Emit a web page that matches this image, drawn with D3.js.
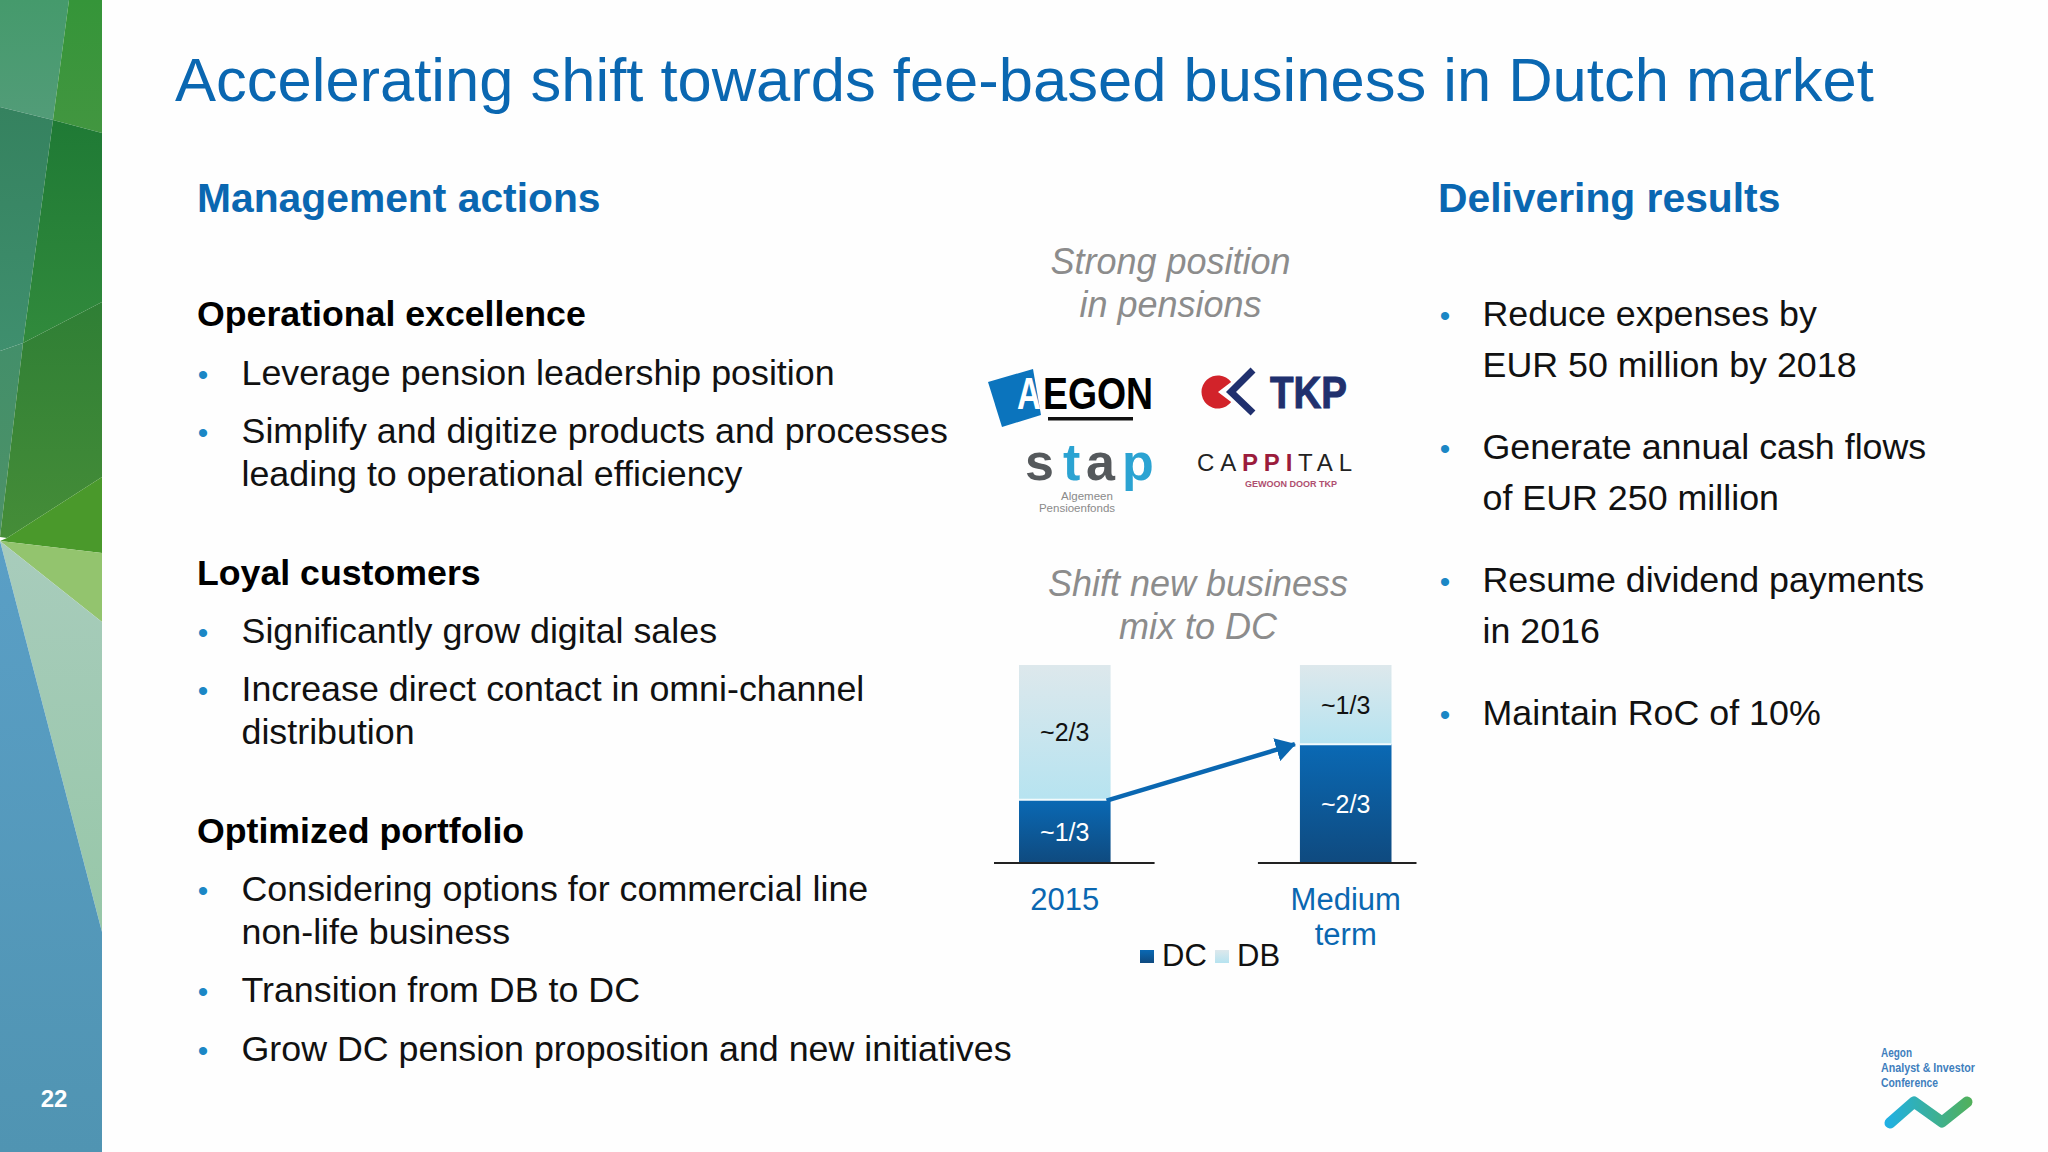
<!DOCTYPE html>
<html>
<head>
<meta charset="utf-8">
<script src="https://cdn.jsdelivr.net/npm/d3@7"></script>
<style>
  html, body { margin: 0; padding: 0; background: #fff; overflow: hidden; }
  svg { display: block; }
  text { font-family: "Liberation Sans", Arial, sans-serif; }
</style>
</head>
<body>
<svg id="slide" width="2048" height="1152"></svg>
<script>
// chart values
const categories = ['2015', 'Medium term'];
const seriesNames = ['DC', 'DB'];
const dcValues = [32, 60];
const dbValues = [68, 40];
const dcLabels = ['~1/3', '~2/3'];
const dbLabels = ['~2/3', '~1/3'];

const BLUE = '#0a67b1';

const svg = d3.select('#slide');
const defs = svg.append('defs');

function vGradient(id, c1, c2) {
  const g = defs.append('linearGradient').attr('id', id)
    .attr('x1', 0).attr('y1', 0).attr('x2', 0).attr('y2', 1);
  g.append('stop').attr('offset', '0%').attr('stop-color', c1);
  g.append('stop').attr('offset', '100%').attr('stop-color', c2);
}
vGradient('dcFill', '#0a69b4', '#0f4a7f');
vGradient('dbFill', '#dde8ec', '#b6e3f0');
vGradient('p1', '#459a6c', '#529c78');
vGradient('p2', '#359539', '#429640');
vGradient('p3', '#35825f', '#3f8f6e');
vGradient('p4', '#1f7a35', '#318a3c');
vGradient('p5', '#438f6a', '#4d9268');
vGradient('p6', '#2f7f35', '#458d38');
vGradient('p9', '#a8ccbc', '#97c7a8');
vGradient('blueFill', '#5a9fc6', '#5094b2');
const logoGrad = defs.append('linearGradient').attr('id', 'logoFill')
  .attr('gradientUnits', 'userSpaceOnUse')
  .attr('x1', 1885).attr('y1', 0).attr('x2', 1972).attr('y2', 0);
logoGrad.append('stop').attr('offset', '0%').attr('stop-color', '#1fb0e6');
logoGrad.append('stop').attr('offset', '100%').attr('stop-color', '#52b05a');

svg.append('rect').attr('width', 2048).attr('height', 1152).attr('fill', '#fefefe');

// side panel
const panel = svg.append('g');
[
  ['url(#p1)', [[0,0],[69,0],[53,120],[0,107]]],
  ['url(#p2)', [[69,0],[102,0],[102,133],[53,120]]],
  ['url(#p3)', [[0,107],[53,120],[23,343],[0,351]]],
  ['url(#p4)', [[53,120],[102,133],[102,302],[23,343]]],
  ['url(#p5)', [[0,351],[23,343],[0,537]]],
  ['url(#p6)', [[23,343],[102,302],[102,477],[7,538],[0,537]]],
  ['#4a992b', [[7,538],[102,477],[102,553],[0,541]]],
  ['#93c46e', [[0,541],[102,553],[102,622]]],
  ['url(#p9)', [[0,541],[102,622],[102,932]]],
  ['url(#blueFill)', [[0,541],[102,932],[102,1152],[0,1152]]]
].forEach(([fill, pts]) => {
  panel.append('polygon')
    .attr('points', pts.map(p => p.join(',')).join(' '))
    .attr('fill', fill);
});
panel.append('text').attr('x', 54).attr('y', 1107).attr('text-anchor', 'middle')
  .attr('font-size', 24).attr('font-weight', 'bold').attr('fill', '#fff').text('22');

function txt(x, y, s, size, fill, opts) {
  const t = svg.append('text').attr('x', x).attr('y', y)
    .attr('font-size', size).attr('fill', fill).text(s);
  Object.entries(opts || {}).forEach(([k, v]) => t.attr(k, v));
  return t;
}

txt(175, 101, 'Accelerating shift towards fee-based business in Dutch market', 61.5, BLUE);
txt(197, 212, 'Management actions', 40.8, BLUE, { 'font-weight': 'bold' });
txt(1438, 212, 'Delivering results', 40.8, BLUE, { 'font-weight': 'bold' });

// left column
[
  [326, 'Operational excellence'],
  [585, 'Loyal customers'],
  [843, 'Optimized portfolio']
].forEach(d => txt(197, d[0], d[1], 35.7, '#000', { 'font-weight': 'bold' }));

function bulletLines(bx, tx, rows) {
  rows.forEach(([y, s, first]) => {
    if (first) txt(bx, y, '•', 30, '#1b87c5', { 'text-anchor': 'middle' });
    txt(tx, y, s, 35.8, '#111');
  });
}
bulletLines(203, 241.5, [
  [385, 'Leverage pension leadership position', true],
  [443, 'Simplify and digitize products and processes', true],
  [486, 'leading to operational efficiency', false],
  [643, 'Significantly grow digital sales', true],
  [701, 'Increase direct contact in omni-channel', true],
  [744, 'distribution', false],
  [901, 'Considering options for commercial line', true],
  [944, 'non-life business', false],
  [1002, 'Transition from DB to DC', true],
  [1061, 'Grow DC pension proposition and new initiatives', true]
]);
bulletLines(1445, 1482.5, [
  [326, 'Reduce expenses by', true],
  [377, 'EUR 50 million by 2018', false],
  [459, 'Generate annual cash flows', true],
  [510, 'of EUR 250 million', false],
  [592, 'Resume dividend payments', true],
  [643, 'in 2016', false],
  [725, 'Maintain RoC of 10%', true]
]);

// italic captions
[
  [1170.5, 274, 'Strong position'],
  [1170.5, 317, 'in pensions'],
  [1198, 596, 'Shift new business'],
  [1198, 639, 'mix to DC']
].forEach(d => txt(d[0], d[1], d[2], 36, '#8c8c8c', { 'font-style': 'italic', 'text-anchor': 'middle' }));

// logos
const logos = svg.append('g');
logos.append('polygon').attr('points', '988,382 1033,369 1041,415 1002,427').attr('fill', '#0b74bd');
txt(0, 0, 'A', 44, '#fff', { 'font-weight': 'bold', transform: 'translate(1017,409) scale(0.75,1)' });
txt(0, 0, 'EGON', 44, '#000', { 'font-weight': 'bold', transform: 'translate(1043,409) scale(0.85,1)' });
logos.append('rect').attr('x', 1048).attr('y', 417).attr('width', 85).attr('height', 3.5).attr('fill', '#111');

const pac = d3.arc().innerRadius(0).outerRadius(16.5)
  .startAngle(Math.PI / 2 + 0.65).endAngle(Math.PI * 2.5 - 0.65);
logos.append('path').attr('d', pac()).attr('transform', 'translate(1218,392)').attr('fill', '#d2232a');
logos.append('path').attr('d', 'M1253,370 L1231,392 L1253,413').attr('fill', 'none')
  .attr('stroke', '#20306e').attr('stroke-width', 7);
txt(1270, 408, 'TKP', 44, '#20306e', { 'font-weight': 'bold', textLength: 77, lengthAdjust: 'spacingAndGlyphs', stroke: '#20306e', 'stroke-width': 1 });

[
  ['s', 1025, '#55595c'], ['t', 1063, '#2ba3d2'], ['a', 1086, '#55595c'], ['p', 1122, '#2ba3d2']
].forEach(d => txt(d[1], 480, d[0], 52, d[2], { 'font-weight': 'bold' }));
txt(1087, 500, 'Algemeen', 11.5, '#8a8a8a', { 'text-anchor': 'middle' });
txt(1077, 512, 'Pensioenfonds', 11.5, '#8a8a8a', { 'text-anchor': 'middle' });

const cap = txt(1197, 471, '', 24, '#222', { textLength: 155 });
[['CA', '#222', 'normal'], ['PPI', '#9b1c3c', 'bold'], ['TAL', '#222', 'normal']].forEach(d => {
  cap.append('tspan').attr('fill', d[1]).attr('font-weight', d[2]).text(d[0]);
});
txt(1245, 487, 'GEWOON DOOR TKP', 9, '#ae4f6f', { 'font-weight': 'bold', textLength: 92 });

const confFont = '"Liberation Sans Narrow", "Liberation Sans", sans-serif';
[[1057, 'Aegon', 31], [1072, 'Analyst & Investor', 94], [1087, 'Conference', 57]].forEach(d => {
  txt(1881, d[0], d[1], 13, '#3f7ebd', { textLength: d[2], lengthAdjust: 'spacingAndGlyphs', 'font-weight': 'bold' })
    .style('font-family', confFont);
});
logos.append('path').attr('d', 'M1890,1123 L1914,1102 L1942,1122 L1967,1102')
  .attr('fill', 'none').attr('stroke', 'url(#logoFill)').attr('stroke-width', 11)
  .attr('stroke-linecap', 'round').attr('stroke-linejoin', 'round');

// stacked bars
const x = d3.scaleBand().domain(categories).range([1019, 1391.5]).paddingInner(0.674).paddingOuter(0);
const y = d3.scaleLinear().domain([0, 100]).range([863, 665]);

const rows = categories.map((c, i) => ({ category: c, DC: dcValues[i], DB: dbValues[i], dcLabel: dcLabels[i], dbLabel: dbLabels[i] }));
const stacked = d3.stack().keys(seriesNames)(rows);
const fills = { DC: 'url(#dcFill)', DB: 'url(#dbFill)' };

const chart = svg.append('g');
chart.selectAll('g.series').data(stacked).enter().append('g').attr('class', 'series')
  .attr('fill', d => fills[d.key])
  .selectAll('rect').data(d => d).enter().append('rect')
  .attr('x', d => x(d.data.category))
  .attr('y', d => y(d[1]))
  .attr('width', x.bandwidth())
  .attr('height', d => y(d[0]) - y(d[1]));

// white seam between the two segments
chart.selectAll('line.seam').data(rows).enter().append('line').attr('class', 'seam')
  .attr('x1', d => x(d.category)).attr('x2', d => x(d.category) + x.bandwidth())
  .attr('y1', d => y(d.DC)).attr('y2', d => y(d.DC))
  .attr('stroke', '#f2fafc').attr('stroke-width', 2);

chart.selectAll('text.dc').data(rows).enter().append('text').attr('class', 'dc')
  .attr('x', d => x(d.category) + x.bandwidth() / 2)
  .attr('y', d => y(d.DC / 2) + 9.5)
  .attr('text-anchor', 'middle').attr('font-size', 25).attr('fill', '#fff')
  .text(d => d.dcLabel);
chart.selectAll('text.db').data(rows).enter().append('text').attr('class', 'db')
  .attr('x', d => x(d.category) + x.bandwidth() / 2)
  .attr('y', d => y(d.DC + d.DB / 2) + 9)
  .attr('text-anchor', 'middle').attr('font-size', 25).attr('fill', '#111')
  .text(d => d.dbLabel);

// baselines, one per bar
[[-25, 44], [-42, 25]].forEach((ext, i) => {
  const x0 = x(categories[i]);
  chart.append('line').attr('x1', x0 + ext[0]).attr('x2', x0 + x.bandwidth() + ext[1])
    .attr('y1', y(0)).attr('y2', y(0)).attr('stroke', '#222').attr('stroke-width', 2);
});

// category labels through the axis
const axis = chart.append('g').attr('transform', `translate(0,${y(0)})`)
  .call(d3.axisBottom(x).tickSize(0).tickPadding(0));
axis.select('.domain').remove();
axis.selectAll('.tick text').each(function (d) {
  const t = d3.select(this).text(null)
    .attr('y', 0).attr('dy', null)
    .attr('font-size', 31).attr('fill', BLUE)
    .style('font-family', '"Liberation Sans", Arial, sans-serif');
  d.split(' ').forEach((w, i) => {
    t.append('tspan').attr('x', 0).attr('y', 47 + i * 35).text(w);
  });
});

// arrow from the 2015 DC top to the medium term DC top
defs.append('marker').attr('id', 'head').attr('markerUnits', 'userSpaceOnUse')
  .attr('viewBox', '0 0 20 24').attr('refX', 19).attr('refY', 12)
  .attr('markerWidth', 20).attr('markerHeight', 24).attr('orient', 'auto')
  .append('path').attr('d', 'M0,0 L20,12 L0,24 Z').attr('fill', BLUE);
chart.append('line')
  .attr('x1', x(categories[0]) + x.bandwidth() - 4).attr('y1', y(dcValues[0]) + 1)
  .attr('x2', x(categories[1]) - 5).attr('y2', y(dcValues[1]))
  .attr('stroke', BLUE).attr('stroke-width', 4.5).attr('marker-end', 'url(#head)');

// legend
const legendX = d3.scaleOrdinal().domain(seriesNames).range([1140, 1215]);
const legend = chart.selectAll('g.legend').data(seriesNames).enter().append('g').attr('class', 'legend')
  .attr('transform', d => `translate(${legendX(d)},950)`);
legend.append('rect').attr('width', 14).attr('height', 13).attr('fill', d => fills[d]);
legend.append('text').attr('x', 22).attr('y', 16).attr('font-size', 31).attr('fill', '#111').text(d => d);
</script>
</body>
</html>
